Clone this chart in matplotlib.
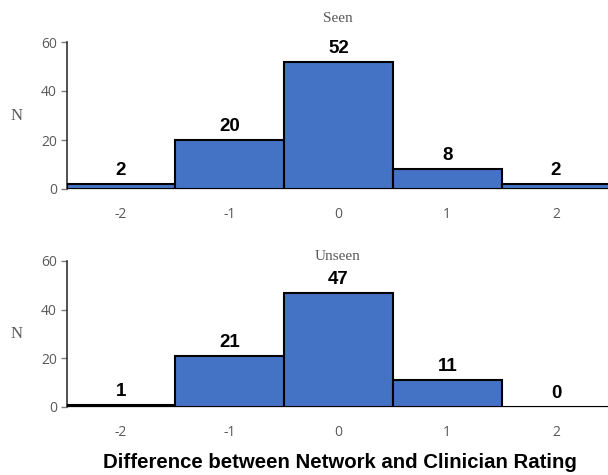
import matplotlib
matplotlib.use("Agg")
import matplotlib.pyplot as plt

categories = [-2, -1, 0, 1, 2]
seen_counts = [2, 20, 52, 8, 2]
unseen_counts = [1, 21, 47, 11, 0]
y_ticks = [0, 20, 40, 60]
titles = ["Seen", "Unseen"]
xlabel = "Difference between Network and Clinician Rating"

W, H = 608, 475
fig = plt.figure(figsize=(W / 100, H / 100), dpi=100)

left_px, right_px = 66.6, 610.4
panels = [(189, 42, seen_counts, titles[0], 18), (407, 261, unseen_counts, titles[1], 256)]

for (bot_px, top_px, counts, title, title_y) in panels:
    ax = fig.add_axes([left_px / W, (H - bot_px) / H, (right_px - left_px) / W, (bot_px - top_px) / H])
    ax.bar(categories, counts, width=1.0, color="#4472C4", edgecolor="black", linewidth=1.5, zorder=3)
    ax.set_xlim(-2.5, 2.5)
    ax.set_ylim(0, 60)
    ax.set_yticks(y_ticks)
    ax.set_xticks(categories)
    ax.set_xticklabels([str(c) for c in categories])
    for s in ["top", "right"]:
        ax.spines[s].set_visible(False)
    ax.spines["bottom"].set_color("#D9D9D9")
    ax.spines["bottom"].set_linewidth(1.2)
    ax.spines["bottom"].set_zorder(2)
    ax.spines["left"].set_color("#333333")
    ax.spines["left"].set_linewidth(1.2)
    ax.tick_params(axis="x", length=0, pad=13, labelsize=10, labelcolor="#595959")
    ax.tick_params(axis="y", length=4, width=1, color="#7f7f7f", pad=3, labelsize=10, labelcolor="#595959")
    for lab in ax.get_xticklabels() + ax.get_yticklabels():
        lab.set_fontfamily("Open Sans")
    for c, v in zip(categories, counts):
        ax.annotate(str(v), (c, v), xytext=(0, 6.5), textcoords="offset points",
                    ha="center", va="baseline", fontsize=13.5, fontweight="bold",
                    family="Liberation Sans", color="black")
    fig.text((left_px + 0.5 * (right_px - left_px) - 1) / W, 1 - title_y / H, title, ha="center", va="center",
             fontsize=11, family="Liberation Serif", color="#595959")
    fig.text(17 / W, 1 - ((bot_px + top_px) / 2) / H, "N", ha="center", va="center",
             fontsize=12, family="Liberation Serif", color="#595959")

fig.text(340 / W, 1 - 462 / H, xlabel, ha="center", va="center", fontsize=14.7, fontweight="bold",
         family="Liberation Sans", color="black")

fig.savefig("out.png", dpi=100)
